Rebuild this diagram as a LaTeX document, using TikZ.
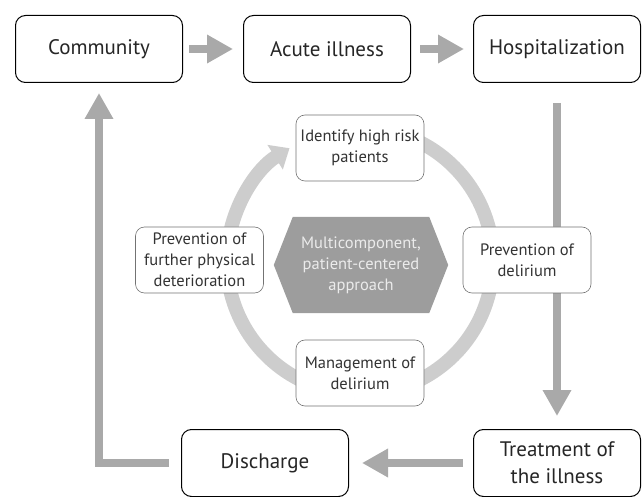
\documentclass[tikz,border=0pt]{standalone}
\usepackage{fontspec}
\setmainfont{PT Sans}
\usetikzlibrary{arrows.meta,calc,positioning}
\definecolor{arrowgray}{HTML}{A9A9A9}
\definecolor{ringgray}{HTML}{CDCDCD}
\definecolor{hubgray}{HTML}{9D9D9D}
\definecolor{inkgray}{HTML}{262626}
\tikzset{
	stage/.style={draw=black,line width=1pt,rounded corners=10pt,fill=white,
		minimum width=167pt,minimum height=67pt,align=center,text=inkgray,
		font=\fontsize{21}{27}\selectfont},
	measure/.style={draw=black!55,line width=.6pt,rounded corners=9pt,fill=white,
		minimum width=128pt,minimum height=66pt,align=center,text=black!80,
		font=\fontsize{16.5}{21}\selectfont},
	big ar/.style={draw=arrowgray,line width=8.5pt,-{Triangle[width=27pt,length=26pt]}},
	ring ar/.style={draw=ringgray,line width=14pt,-{Triangle[width=28pt,length=17pt]}},
	hub/.style={minimum width=136pt,minimum height=96pt,align=center,inner sep=0pt,
		text=white!92!black,font=\fontsize{16.5}{21}\selectfont}
}
\begin{document}
\begin{tikzpicture}[x=1pt,y=-1pt]
	\useasboundingbox (0,0) rectangle (643,497);
	% care cycle in the middle (y runs down, so angles are mirrored)
	\coordinate (mid) at (360,261);
	\draw[ring ar] (mid) ++(-80:133) arc[start angle=-80,end angle=238,radius=133];
	\node[hub] (core) at (361,265) {};
	\fill[hubgray] (core.north west) -- (core.north east) -- ($(core.east)+(19,0)$)
		-- (core.south east) -- (core.south west) -- ($(core.west)+(-19,0)$) -- cycle;
	\node[hub] at (core) {Multicomponent,\\patient-centered\\approach};
	% outer path
	\node[stage] (comm) at (99,49) {Community};
	\node[stage, right=60pt of comm] (acute) {Acute illness};
	\node[stage, right=62pt of acute] (hosp) {Hospitalization};
	\node[stage, below=346pt of hosp] (treat) {Treatment of\\the illness};
	\node[stage, left=124pt of treat] (dis) {Discharge};
	\draw[big ar,shorten <=6pt,shorten >=10pt] (comm) -- (acute);
	\draw[big ar,shorten <=9pt,shorten >=9pt] (acute) -- (hosp);
	\draw[big ar,shorten <=20pt,shorten >=13pt] (hosp) -- (treat);
	\draw[big ar,shorten <=10pt,shorten >=13pt] (treat) -- (dis);
	\draw[big ar,shorten <=12pt,shorten >=10pt] (dis.west) -| (comm.south);
	% steps round the circle
	\node[measure] (ident) at (360,148) {Identify high risk\\patients};
	\node[measure] (prevdel) at (527,260) {Prevention of\\delirium};
	\node[measure] (manage) at (360,373) {Management of\\delirium};
	\node[measure] (prevphys) at (199.5,260) {Prevention of\\further physical\\deterioration};
\end{tikzpicture}
\end{document}
